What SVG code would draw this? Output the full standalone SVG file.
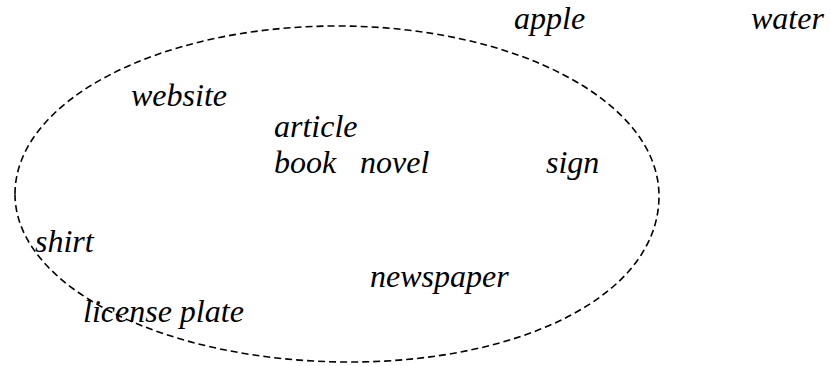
<svg xmlns="http://www.w3.org/2000/svg" width="830" height="366" viewBox="0 0 830 366">
<style>
.t{font-family:"Liberation Serif","Times New Roman",serif;font-style:italic;font-size:32px;fill:#000}
.b{fill:none;stroke:#000;stroke-width:1.6;stroke-dasharray:7 4}
</style>
<rect width="830" height="366" fill="#fff"/>
<g id="connectors">
<path id="set" class="b" d="M15,194 C15,101 159,26 337,26 C515,26 659,101 659,196 C659,296 520,362 350,362 C165,362 15,287 15,194 Z"/>
</g>
<g id="n-apple"><text class="t" x="514" y="29">apple</text></g>
<g id="n-water"><text class="t" x="751" y="29">water</text></g>
<g id="n-website"><text class="t" x="131" y="106">website</text></g>
<g id="n-article"><text class="t" x="274" y="137">article</text></g>
<g id="n-book"><text class="t" x="274" y="173">book</text></g>
<g id="n-novel"><text class="t" x="360" y="173">novel</text></g>
<g id="n-sign"><text class="t" x="546" y="173">sign</text></g>
<g id="n-shirt"><text class="t" x="35" y="252">shirt</text></g>
<g id="n-newspaper"><text class="t" x="370" y="287">newspaper</text></g>
<g id="n-license"><text class="t" x="83" y="322">license plate</text></g>
</svg>
